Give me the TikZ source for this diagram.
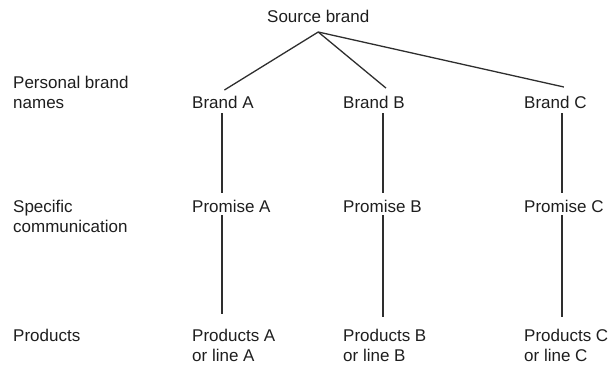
\documentclass[tikz,border=0pt]{standalone}
\usepackage{fontspec}
\setmainfont{Liberation Sans}
\definecolor{txt}{HTML}{1E1E1E}
\definecolor{ln}{HTML}{2E2E2E}
\begin{document}
\begin{tikzpicture}[x=1pt,y=-1pt,
  lbl/.style={anchor=base west, inner sep=0pt, font=\fontsize{17}{20}\selectfont, text=txt, align=left},
  conn/.style={draw=ln, line width=1.3pt}]
\useasboundingbox (0,0) rectangle (611,365);
% column x positions for vertical connectors
\coordinate (xA) at (222,0);
\coordinate (xB) at (383,0);
\coordinate (xC) at (562,0);
% nodes (multi-line nodes are placed by the baseline of their last line)
\node[lbl] (src) at (267,22) {Source brand};
\node[lbl] (l1) at (13,108.5) {Personal brand\\names};
\node[lbl] (l2) at (13,232) {Specific\\communication};
\node[lbl] (l3) at (13,341) {Products};
\node[lbl] (brA) at (192,108.5) {Brand A};
\node[lbl] (brB) at (343,108.5) {Brand B};
\node[lbl] (brC) at (524,108.5) {Brand C};
\node[lbl] (prA) at (192,212) {Promise A};
\node[lbl] (prB) at (343,212) {Promise B};
\node[lbl] (prC) at (524,212) {Promise C};
\node[lbl] (pdA) at (192,361) {Products A\\or line A};
\node[lbl] (pdB) at (343,361) {Products B\\or line B};
\node[lbl] (pdC) at (524,361) {Products C\\or line C};
% apex below source brand
\coordinate (apex) at ([yshift=-10pt]src.base);
% slanted connectors
\draw[conn] (apex) -- ([xshift=1.5pt,yshift=18.5pt]brA.base);
\draw[conn] (apex) -- ([xshift=12pt,yshift=20.5pt]brB.base);
\draw[conn] (apex) -- ([xshift=8.5pt,yshift=21.5pt]brC.base);
% vertical connectors
\draw[conn] ([yshift=-4.5pt]brA.base -| xA) -- ([yshift=19pt]prA.base -| xA);
\draw[conn] ([yshift=-3pt]prA.base -| xA) -- ([yshift=47pt]pdA.base -| xA);
\draw[conn] ([yshift=-4.5pt]brB.base -| xB) -- ([yshift=19pt]prB.base -| xB);
\draw[conn] ([yshift=-3pt]prB.base -| xB) -- ([yshift=44pt]pdB.base -| xB);
\draw[conn] ([yshift=-4.5pt]brC.base -| xC) -- ([yshift=19pt]prC.base -| xC);
\draw[conn] ([yshift=-3pt]prC.base -| xC) -- ([yshift=44pt]pdC.base -| xC);
\end{tikzpicture}
\end{document}
